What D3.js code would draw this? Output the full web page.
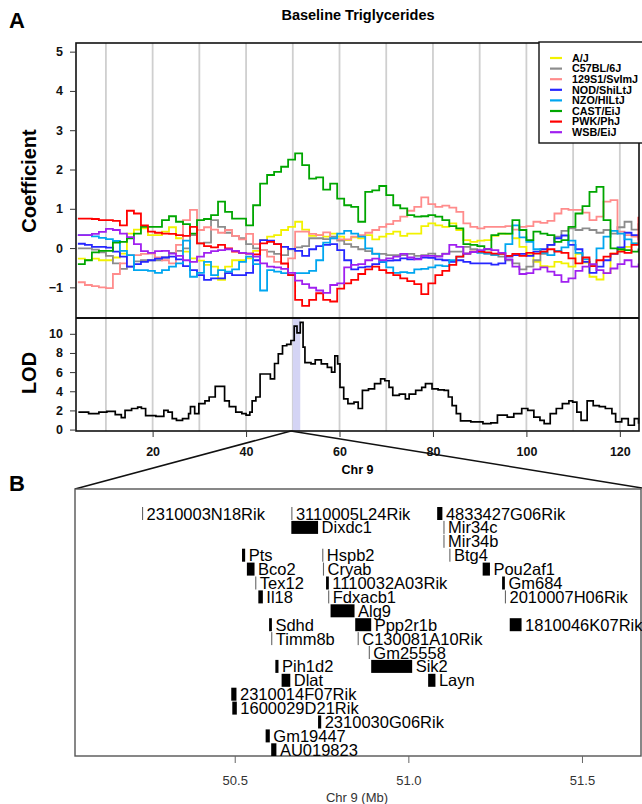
<!DOCTYPE html>
<html>
<head>
<meta charset="utf-8">
<script src="https://d3js.org/d3.v7.min.js"></script>
<style>
  body { margin: 0; background: #fff; }
  text { font-family: "Liberation Sans", Arial, sans-serif; }
</style>
</head>
<body>
<div id="chart"></div>
<script>
var width  = 642;
var height = 804;

// ------------- data -----------------
var strains      = ["A/J", "C57BL/6J", "129S1/SvImJ", "NOD/ShiLtJ", "NZO/HlLtJ", "CAST/EiJ", "PWK/PhJ", "WSB/EiJ"];
var strainColors = ["#f2f200", "#8c8c8c", "#ff8c8c", "#2626ff", "#00a6f0", "#00a600", "#ff0000", "#a020f0"];

var coefPos = [4, 5.5, 7, 8.5, 10, 11.5, 13, 14.5, 16, 17.5, 19, 20.5, 22, 23.5, 25, 26.5, 28, 29.5, 31, 32.5,
               34, 35.5, 37, 38.5, 40, 41.5, 43, 44.5, 46, 47.5, 49, 50.5, 52, 53.5, 55, 56.5,
               58, 59.5, 61, 62.5, 64, 65.5, 67, 68.5, 70, 71.5, 73, 74.5, 76, 77.5, 79, 80.5, 82, 83.5, 85,
               86.5, 88, 89.5, 91, 92.5, 94, 95.5, 97, 98.5, 100, 101.5, 103, 104.5, 106, 107.5, 109, 110.5,
               112, 113.5, 115, 116.5, 118, 119.5, 121, 122.5, 124];

var coefAJ   = [-0.27,-0.30,-0.27,-0.31,-0.31,-0.24,-0.14,0.37,0.47,0.50,0.33,0.33,0.42,0.53,0.25,-0.09,-0.26,-0.32,-0.43,-0.47,
                -0.81,-0.47,-0.31,-0.31,-0.26,-0.07,0.20,0.29,0.33,0.46,0.54,0.67,0.47,0.31,0.33,0.29,
                0.37,0.29,0.20,0.27,0.25,0.33,0.22,0.29,0.36,0.42,0.31,0.37,0.37,0.56,0.63,0.58,0.54,0.63,0.46,
                0.20,0.16,0.19,0.20,0.31,0.37,0.36,0.25,0.03,-0.18,-0.35,-0.46,-0.47,-0.35,-0.39,-0.47,-0.15,
                -0.37,-0.73,-0.80,-0.64,-0.14,-0.05,0.03,0.12,0.08];
var coefB6   = [-0.01,-0.01,-0.04,-0.11,-0.20,-0.39,-0.53,-0.47,-0.34,-0.31,-0.31,-0.31,-0.24,-0.12,-0.07,-0.01,0.33,0.12,0.14,0.71,
                0.54,0.39,0.31,0.25,0.10,-0.01,-0.05,-0.09,-0.15,-0.18,-0.03,0.02,0.05,0.25,0.25,0.23,
                0.29,0.19,0.10,0.03,-0.03,-0.08,-0.14,-0.15,-0.18,-0.18,-0.18,-0.15,-0.20,-0.18,-0.14,-0.20,-0.14,-0.09,-0.09,
                0.03,-0.03,-0.07,-0.14,-0.18,-0.22,-0.31,-0.39,-0.54,-0.47,-0.31,-0.15,0.08,0.29,0.44,0.50,0.46,
                0.50,0.46,0.39,0.46,0.37,0.53,0.67,0.47,0.63];
var coef129  = [-0.87,-0.94,-0.97,-1.00,-1.02,-0.66,-0.39,-0.18,-0.18,-0.15,-0.14,-0.24,-0.31,-0.39,0.08,0.71,0.97,0.46,0.53,0.47,
                0.39,0.46,0.31,0.22,0.36,0.10,-0.05,-0.22,-0.35,-0.41,-0.26,0.42,0.42,0.36,0.33,0.40,
                0.25,0.22,0.22,0.29,0.33,0.39,0.46,0.54,0.61,0.69,0.80,0.95,1.05,1.29,1.12,1.05,1.08,1.03,0.92,
                0.63,0.54,0.50,0.54,0.54,0.54,0.56,0.47,0.54,0.56,0.67,0.64,0.69,0.88,1.00,0.97,0.97,
                0.90,0.71,0.80,1.18,1.22,0.42,0.33,0.29,0.37];
var coefNOD  = [0.11,0.08,0.03,0.03,0.01,-0.09,-0.22,-0.47,-0.41,-0.35,-0.31,-0.27,-0.24,-0.22,-0.29,-0.46,-0.56,-0.69,-0.81,-0.77,
                -0.77,-0.64,-0.69,-0.69,-0.63,-0.31,0.20,0.19,0.10,0.03,-0.02,-0.07,-0.20,-0.03,0.05,0.08,
                0.10,-0.05,-0.31,-0.54,-0.49,-0.47,-0.41,-0.36,-0.32,-0.31,-0.26,-0.29,-0.27,-0.24,-0.25,-0.29,-0.31,-0.35,-0.31,
                -0.35,-0.39,-0.39,-0.39,-0.42,-0.39,-0.22,-0.18,-0.15,-0.20,-0.09,-0.03,0.08,0.25,0.32,0.08,-0.03,
                -0.35,-0.63,-0.47,-0.31,-0.15,0.02,0.39,0.33,0.20];
var coefNZO  = [0.33,0.33,0.30,0.26,0.23,0.18,-0.07,-0.18,-0.56,-0.56,-0.58,-0.63,-0.56,-0.47,-0.39,0.19,-0.73,-0.63,-0.35,-0.69,
                -0.56,-0.60,-0.54,-0.35,-0.22,-0.41,-1.08,-0.56,-0.60,-0.64,-0.68,-0.64,-0.64,-0.58,-0.31,0.14,
                0.25,0.37,0.44,0.37,0.29,-0.01,-0.15,-0.35,-0.49,-0.63,-0.61,-0.63,-0.54,-0.53,-0.49,-0.44,-0.46,-0.31,-0.22,
                -0.14,-0.10,-0.12,-0.14,-0.17,-0.14,0.10,0.58,0.27,0.16,-0.03,-0.12,-0.18,-0.07,0.02,0.19,-0.12,
                -0.29,-0.46,-0.01,0.29,0.44,0.37,0.22,0.12,0.08];
var coefCAST = [-0.41,-0.31,-0.11,-0.07,-0.07,0.14,0.16,0.25,0.37,0.54,0.54,0.54,0.71,0.81,0.67,0.61,0.37,0.71,0.74,0.84,
                1.18,0.92,0.75,0.75,0.58,1.09,1.64,1.86,1.94,2.07,2.25,2.41,2.11,1.77,1.80,1.49,
                1.64,1.26,1.09,1.05,0.67,1.43,1.47,1.58,1.35,1.09,1.01,0.84,0.80,0.81,0.84,0.80,0.71,0.56,0.50,
                0.10,0.08,0.05,-0.03,0.33,0.37,0.37,0.71,0.46,0.20,0.42,0.37,0.33,0.16,0.20,0.54,0.88,
                1.07,1.43,1.56,0.71,-0.01,-0.03,-0.05,-0.09,-0.01];
var coefPWK  = [0.75,0.75,0.74,0.71,0.71,0.69,0.58,0.95,0.88,0.58,0.42,0.39,0.37,0.36,0.33,0.31,0.54,0.12,0.05,0.02,
                0.08,-0.01,-0.09,-0.12,-0.14,-0.16,0.12,0.16,0.10,-0.39,-0.69,-1.32,-1.47,-1.32,-1.15,-1.32,
                -1.36,-1.03,-0.90,-0.81,-0.66,-0.54,-0.47,-0.56,-0.63,-0.69,-0.77,-0.84,-0.92,-1.17,-0.90,-0.69,-0.58,-0.43,-0.22,
                -0.14,-0.09,-0.09,-0.11,-0.14,-0.15,-0.20,-0.15,-0.20,-0.12,-0.14,-0.09,-0.03,-0.09,-0.12,-0.26,-0.39,
                -0.24,-0.46,-0.31,-0.22,-0.14,-0.09,-0.12,0.08,0.80];
var coefWSB  = [0.33,0.33,0.36,0.41,0.49,0.46,0.37,0.28,0.10,-0.08,-0.12,-0.08,-0.07,-0.14,-0.20,-0.31,-0.35,-0.22,-0.12,-0.08,
                -0.05,-0.03,-0.07,-0.12,-0.14,-0.22,-0.39,-0.47,-0.49,-0.53,-0.63,-0.83,-0.92,-1.01,-1.08,-1.14,
                -0.94,-0.90,-0.49,-0.43,-0.41,-0.31,-0.27,-0.31,-0.26,-0.22,-0.15,-0.24,-0.29,-0.20,-0.20,-0.22,-0.15,0.08,0.03,
                -0.14,-0.10,-0.05,-0.02,-0.05,-0.12,-0.29,-0.47,-0.66,-0.64,-0.54,-0.49,-0.60,-0.69,-0.86,-0.77,-0.58,
                -0.47,-0.41,-0.56,-0.64,-0.52,-0.41,-0.31,-0.47,-0.39];
var coefSeries = [coefAJ, coefB6, coef129, coefNOD, coefNZO, coefCAST, coefPWK, coefWSB];

var lodPos = [4.1,6.3,8.5,10.2,12,13.3,14.1,15.5,16.8,17.6, 18.5,20.7,22.4,23.3,24.2,25.1,26.4,27.7,28.1,29,
              29.9,31.2,32.1,33.4,34.7,35.4,36.4,37.8,39.1,40, 40.8,41.3,42.1,43,44.3,45.2,46.1,46.9,47.8,48.7,
              49.6,50.3,50.9,51.6,52.2,52.6,53.9,54.8,56.1,57.4, 58.3,59,59.6,60.1,60.9,61.8,63.1,64,64.9,66.2,
              67.5,68.8,69.7,70.6,71.4,72.8,74.1,74.9,76.3,77.6, 78.4,79.8,81.1,82.4,83.3,84.1,85,85.9,88.1,90.7,
              92.4,93.8,95.9,97.3,99,100.3,101.6,102.9,103.8,105.1, 106.4,107.7,109.1,109.9,110.8,111.7,113,114.3,115.6,116.9,
              118.3,119.1,120.4,121.8,123.1,124];
var lodVal = [1.83,1.66,1.83,1.9,1.56,1.25,2.0,2.2,2.35,2.2, 1.45,1.38,2.0,1.83,1.14,0.97,1.14,1.66,2.4,1.66,
              2.7,3.0,3.4,4.5,4.5,3.0,2.4,1.83,1.66,1.5, 1.83,3.0,3.4,5.8,5.8,5.3,6.9,7.9,8.75,8.9,
              9.3,10.8,10.1,11.2,8.6,7.0,6.85,7.27,6.85,6.5, 6.0,7.7,6.85,4.4,3.2,2.7,2.87,2.2,4.1,4.25,
              4.8,5.3,5.1,4.4,3.56,3.7,3.2,3.7,4.1,4.4, 4.8,4.25,4.15,4.1,3.4,2.5,1.66,0.9,0.8,0.62,
              0.7,1.5,1.3,1.66,2.2,2.0,1.3,0.97,0.62,1.66, 2.2,2.7,3.0,2.87,1.83,0.97,3.0,2.5,2.4,2.2,
              1.66,0.8,1.14,0.45,1.14,0.62];

var chrTicks   = [20, 40, 60, 80, 100, 120];
var chrGrid    = [10, 20, 30, 40, 50, 60, 70, 80, 90, 100, 110, 120];
var coefTicks  = [-1, 0, 1, 2, 3, 4, 5];
var lodTicks   = [0, 2, 4, 6, 8, 10];
var peakBand   = [50.0, 51.6];
var peakFocus  = 49.6;

var geneNames = ["2310003N18Rik","3110005L24Rik","4833427G06Rik","Dixdc1","Mir34c","Mir34b","Pts","Hspb2","Btg4",
                 "Bco2","Cryab","Pou2af1","Tex12","1110032A03Rik","Gm684","Il18","Fdxacb1","2010007H06Rik","Alg9",
                 "Sdhd","Ppp2r1b","1810046K07Rik","Timm8b","C130081A10Rik","Gm25558","Pih1d2","Sik2","Dlat","Layn",
                 "2310014F07Rik","1600029D21Rik","2310030G06Rik","Gm19447","AU019823"];
var geneStart = [50.233,50.663,51.083,50.663,51.101,51.101,50.521,50.752,51.118,
                 50.535,50.754,51.214,50.559,50.763,51.270,50.568,50.769,51.278,50.776,
                 50.599,50.847,51.292,50.605,50.854,50.886,50.617,50.893,50.635,51.057,
                 50.490,50.493,50.740,50.589,50.605];
var geneEnd   = [50.233,50.664,51.098,50.740,51.101,51.101,50.530,50.752,51.122,
                 50.557,50.754,51.235,50.560,50.771,51.278,50.581,50.769,51.278,50.845,
                 50.607,50.893,51.326,50.605,50.854,50.886,50.626,51.011,50.660,51.078,
                 50.505,50.506,50.749,50.601,50.620];
var geneRow   = [0,0,0,1,1,2,3,3,3, 4,4,4,5,5,5,6,6,6,7, 8,8,8,9,9,10,11,11,12,12, 13,14,15,16,17];
var mbTicks   = [50.5, 51.0, 51.5];

// ------------- layout -----------------
var plotLeft = 76, plotRight = 639;
var coefTop = 43, coefBottom = 318, lodBottom = 431;
var bLeft = 75, bRight = 641, bTop = 489, bBottom = 756;

var svg = d3.select("#chart").append("svg")
    .attr("width", width)
    .attr("height", height);

var x = d3.scaleLinear().domain([3.6, 124.1]).range([plotLeft, plotRight]);
var yCoef = d3.scaleLinear().domain([-1.78, 5.22]).range([coefBottom, coefTop]);
var yLod  = d3.scaleLinear().domain([-0.15, 11.65]).range([lodBottom, coefBottom]);
var xMb   = d3.scaleLinear().domain([50.04, 51.67]).range([bLeft, bRight]);

// panel letters + title
svg.append("text").attr("x", 9).attr("y", 28).text("A")
    .style("font-size", "22px").style("font-weight", "bold");
svg.append("text").attr("x", 9).attr("y", 491).text("B")
    .style("font-size", "22px").style("font-weight", "bold");
svg.append("text").attr("x", 358).attr("y", 20).attr("text-anchor", "middle")
    .text("Baseline Triglycerides")
    .style("font-size", "14.5px").style("font-weight", "bold");

// ---------------- panel A : grid -----------------
var gridG = svg.append("g");
gridG.selectAll("line").data(chrGrid).enter().append("line")
    .attr("x1", function(d){ return x(d); }).attr("x2", function(d){ return x(d); })
    .attr("y1", coefTop).attr("y2", lodBottom)
    .attr("stroke", "#cfcfcf").attr("stroke-width", 1.8);

// peak band in LOD panel
svg.append("rect")
    .attr("x", x(peakBand[0])).attr("width", x(peakBand[1]) - x(peakBand[0]))
    .attr("y", coefBottom).attr("height", lodBottom - coefBottom)
    .attr("fill", "#d4d4f4");

svg.append("clipPath").attr("id", "coefClip").append("rect")
    .attr("x", plotLeft).attr("y", coefTop)
    .attr("width", plotRight - plotLeft).attr("height", coefBottom - coefTop);

var coefLine = d3.line()
    .x(function(d){ return x(d[0]); })
    .y(function(d){ return yCoef(d[1]); })
    .curve(d3.curveStepAfter);

var linesG = svg.append("g").attr("clip-path", "url(#coefClip)");
coefSeries.forEach(function(vals, i){
  var pts = coefPos.map(function(p, j){ return [p, vals[j]]; });
  linesG.append("path")
    .datum(pts)
    .attr("d", coefLine)
    .attr("fill", "none")
    .attr("stroke", strainColors[i])
    .attr("stroke-width", 1.8);
});

// LOD curve
var lodLine = d3.line()
    .x(function(d){ return x(d[0]); })
    .y(function(d){ return yLod(d[1]); })
    .curve(d3.curveStepAfter);
svg.append("path")
    .datum(lodPos.map(function(p, j){ return [p, lodVal[j]]; }))
    .attr("d", lodLine)
    .attr("fill", "none")
    .attr("stroke", "#000")
    .attr("stroke-width", 1.7);

// frames
svg.append("rect")
    .attr("x", plotLeft).attr("y", coefTop)
    .attr("width", plotRight - plotLeft).attr("height", lodBottom - coefTop)
    .attr("fill", "none").attr("stroke", "#111").attr("stroke-width", 1.6);
svg.append("line")
    .attr("x1", plotLeft).attr("x2", plotRight)
    .attr("y1", coefBottom).attr("y2", coefBottom)
    .attr("stroke", "#111").attr("stroke-width", 1.8);

// axes
function styleAxis(g, size){
  g.select(".domain").remove();
  g.selectAll("text").style("font-size", size).style("font-weight", "bold")
    .style("font-family", "'Liberation Sans', Arial, sans-serif").attr("fill", "#111");
  g.selectAll("line").attr("stroke", "#333");
}
svg.append("g").attr("transform", "translate(" + plotLeft + ",0)")
    .call(d3.axisLeft(yCoef).tickValues(coefTicks).tickSize(6).tickPadding(7).tickFormat(d3.format("d")))
    .call(styleAxis, "12.5px");
svg.append("g").attr("transform", "translate(" + plotLeft + ",0)")
    .call(d3.axisLeft(yLod).tickValues(lodTicks).tickSize(6).tickPadding(7).tickFormat(d3.format("d")))
    .call(styleAxis, "12.5px");
svg.append("g").attr("transform", "translate(0," + lodBottom + ")")
    .call(d3.axisBottom(x).tickValues(chrTicks).tickSize(6).tickPadding(10).tickFormat(d3.format("d")))
    .call(styleAxis, "12.5px");

svg.append("text").attr("x", plotLeft + (plotRight - plotLeft) / 2).attr("y", 474)
    .attr("text-anchor", "middle").text("Chr 9")
    .style("font-size", "12.5px").style("font-weight", "bold");
svg.append("text").attr("transform", "translate(36,181) rotate(-90)")
    .attr("text-anchor", "middle").text("Coefficient")
    .style("font-size", "20px").style("font-weight", "bold");
svg.append("text").attr("transform", "translate(36,373) rotate(-90)")
    .attr("text-anchor", "middle").text("LOD")
    .style("font-size", "20px").style("font-weight", "bold");

// legend
var legG = svg.append("g");
legG.append("rect").attr("x", 539).attr("y", 42).attr("width", 120).attr("height", 101)
    .attr("fill", "#fff").attr("stroke", "#111").attr("stroke-width", 1.4);
strains.forEach(function(s, i){
  var ly = 58 + i * 10.6;
  legG.append("line").attr("x1", 550).attr("x2", 562).attr("y1", ly).attr("y2", ly)
    .attr("stroke", strainColors[i]).attr("stroke-width", 2.2);
  legG.append("text").attr("x", 572).attr("y", ly + 3.8).text(s)
    .style("font-size", "10.8px").style("font-weight", "bold");
});

// ---------------- panel B -----------------
svg.append("line").attr("x1", x(peakFocus)).attr("y1", lodBottom)
    .attr("x2", bLeft).attr("y2", bTop).attr("stroke", "#111").attr("stroke-width", 1.5);
svg.append("line").attr("x1", x(peakFocus)).attr("y1", lodBottom)
    .attr("x2", bRight + 1).attr("y2", bTop - 1).attr("stroke", "#111").attr("stroke-width", 1.5);

svg.append("rect").attr("x", bLeft).attr("y", bTop)
    .attr("width", bRight - bLeft).attr("height", bBottom - bTop)
    .attr("fill", "#fff").attr("stroke", "#555").attr("stroke-width", 1.4);

svg.append("clipPath").attr("id", "bClip").append("rect")
    .attr("x", bLeft).attr("y", bTop).attr("width", bRight - bLeft + 2).attr("height", bBottom - bTop);

var geneG = svg.append("g").attr("clip-path", "url(#bClip)");
var rowY = function(r){ return 513.5 + r * 13.9; };
geneNames.forEach(function(name, i){
  var x0 = xMb(geneStart[i]);
  var w  = xMb(geneEnd[i]) - x0;
  var thin = w < 1.5;
  var y0 = rowY(geneRow[i]);
  geneG.append("rect")
    .attr("x", x0).attr("y", y0 - 6.5)
    .attr("width", thin ? 1.1 : w).attr("height", 13)
    .attr("fill", thin ? "#666" : "#000");
  geneG.append("text")
    .attr("x", x0 + (thin ? 1.1 : w) + 3.5).attr("y", y0 + 6)
    .text(name)
    .style("font-size", "16.5px").attr("fill", "#000");
});

var mbAxis = svg.append("g").attr("transform", "translate(0," + bBottom + ")")
    .call(d3.axisBottom(xMb).tickValues(mbTicks).tickSize(7).tickPadding(13).tickFormat(d3.format(".1f")));
mbAxis.select(".domain").remove();
mbAxis.selectAll("line").attr("stroke", "#666");
mbAxis.selectAll("text").style("font-size", "13px").attr("fill", "#333")
    .style("font-family", "'Liberation Sans', Arial, sans-serif");

svg.append("text").attr("x", 357).attr("y", 802).attr("text-anchor", "middle")
    .text("Chr 9 (Mb)").style("font-size", "13px").attr("fill", "#333");
</script>
</body>
</html>
